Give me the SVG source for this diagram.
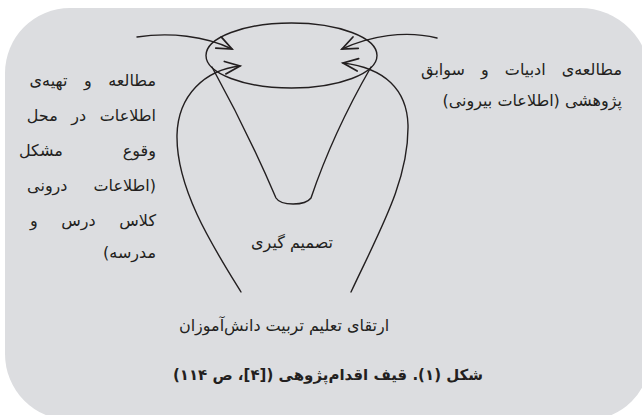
<svg xmlns="http://www.w3.org/2000/svg" width="642" height="415" viewBox="0 0 642 415">
<style>
.ln{fill:none;stroke:#231f20;stroke-width:1.4;stroke-linecap:round}
.t{font-family:"DejaVu Sans",sans-serif;font-size:16px;fill:#231f20;direction:rtl;unicode-bidi:embed}
.c{text-anchor:middle}
.s{text-anchor:start}
.b{font-weight:bold;font-size:15px}
</style>
<defs>
<marker id="ah" markerUnits="userSpaceOnUse" markerWidth="20" markerHeight="20" refX="0" refY="0" viewBox="-14 -8 16 16" orient="auto" overflow="visible">
<path d="M-12,-5 L0,0 L-12,5" fill="none" stroke="#231f20" stroke-width="1.4" stroke-linecap="round" stroke-linejoin="miter"/>
</marker>
</defs>
<path id="bg" d="M5,73 A65,65 0 0 1 70,8 L580,8 A70,70 0 0 1 650,78 L650,357 A63,63 0 0 1 587,420 L71,420 A66,66 0 0 1 5,354 Z" fill="#dcdde0"/>
<g id="funnel">
<ellipse cx="291.5" cy="55.5" rx="85.5" ry="32.5" class="ln" stroke-width="1.6"/>
<path class="ln" d="M212,67 Q247.5,131.5 276,198 C281,206 305,206 311,198 Q333,133 371,67"/>
</g>
<g id="connectors">
<path class="ln" marker-end="url(#ah)" d="M137,37 C170,32 205,36 232,49"/>
<path class="ln" marker-end="url(#ah)" d="M437,38 C405,30 370,36 342,49"/>
<path class="ln" marker-end="url(#ah)" d="M241,292 C215,250 176,190 177,135 C178,95 205,70 240,66"/>
<path class="ln" marker-end="url(#ah)" d="M351,292 C380,230 409,180 408,125 C407,90 385,68 343,63"/>
</g>
<g id="external">
<text class="t s" x="622" y="75" word-spacing="11">مطالعه‌ی ادبیات و سوابق</text>
<text class="t s" x="622" y="106">پژوهشی (اطلاعات بیرونی)</text>
</g>
<g id="internal">
<text class="t s" x="156" y="86" word-spacing="11.5">مطالعه و تهیه‌ی</text>
<text class="t s" x="156" y="121" word-spacing="8.5">اطلاعات در محل</text>
<text class="t s" x="156" y="156" word-spacing="55">وقوع مشکل</text>
<text class="t s" x="156" y="191" word-spacing="21">(اطلاعات درونی</text>
<text class="t s" x="156" y="226" word-spacing="18.5">کلاس درس و</text>
<text class="t s" x="156" y="258">مدرسه)</text>
</g>
<g id="decision">
<text class="t c" x="292" y="248">تصمیم گیری</text>
</g>
<g id="outcome">
<text class="t c" x="284" y="331">ارتقای تعلیم  تربیت دانش‌آموزان</text>
</g>
<g id="caption">
<text class="t c b" x="328" y="380">شکل (۱). قیف اقدام‌پژوهی ([۴]، ص ۱۱۴)</text>
</g>
</svg>
